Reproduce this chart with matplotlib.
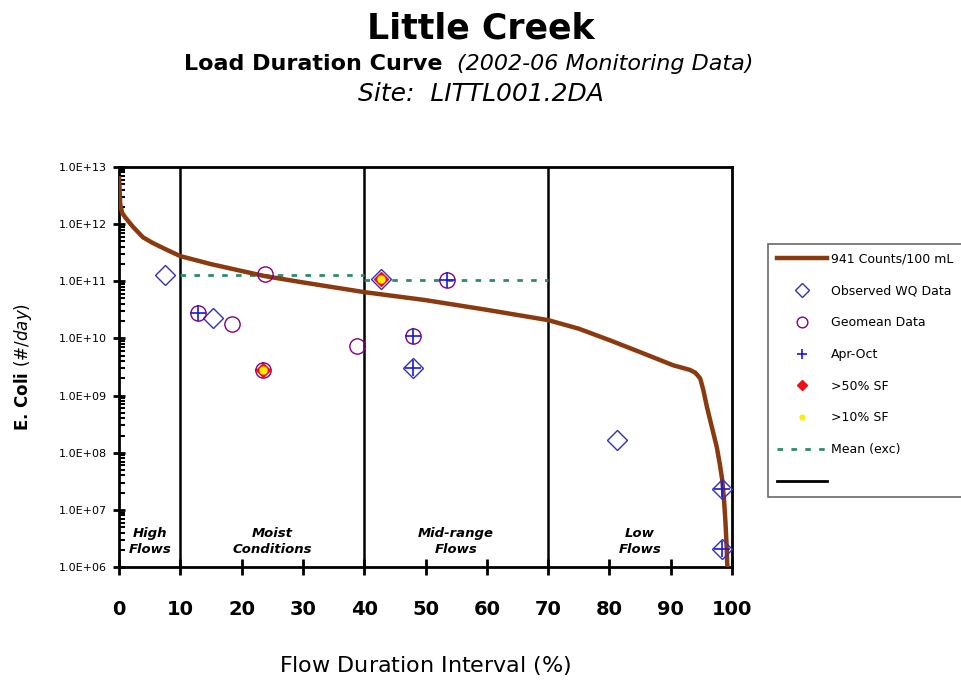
import matplotlib
matplotlib.use("Agg")
import matplotlib.pyplot as plt
import numpy as np
from matplotlib.ticker import LogLocator, FixedLocator, FuncFormatter

# load duration curve at 941 counts/100 mL (flow exceedance %, load #/day)
ldc_pct = [0, 0.1, 0.2, 0.5, 1.0, 2.3, 3.9, 5.5, 7.8, 10, 15, 20, 23.8, 30, 40,
           50, 60, 70, 75, 80, 85, 90.4, 93.1, 94.0, 94.8, 95.3, 95.9, 96.7,
           97.5, 98.0, 98.4, 98.7, 98.9, 99.1, 99.2, 99.4]
ldc_log = [12.8, 12.6, 12.35, 12.2, 12.12, 11.95, 11.77, 11.67, 11.55, 11.44,
           11.3, 11.18, 11.09, 10.98, 10.81, 10.67, 10.5, 10.32, 10.17, 9.97,
           9.76, 9.53, 9.45, 9.4, 9.3, 9.1, 8.8, 8.45, 8.1, 7.8, 7.52, 7.15,
           6.82, 6.4, 6.07, 5.8]
ldc_load = [10 ** v for v in ldc_log]

# observed water quality samples
obs_pct = [7.5, 15.3, 42.8, 48.0, 81.2, 98.4, 98.4]
obs_load = [1.3e11, 2.3e10, 1.1e11, 3.0e9, 1.7e8, 2.3e7, 2.05e6]

# geometric means
geo_pct = [12.9, 18.4, 23.8, 23.5, 38.8, 48.0, 53.5]
geo_load = [2.8e10, 1.8e10, 1.35e11, 2.8e9, 7.5e9, 1.1e10, 1.05e11]

# samples taken April - October
apr_pct = [12.9, 23.5, 48.0, 48.0, 53.5, 98.4, 98.4]
apr_load = [2.8e10, 2.8e9, 1.1e10, 3.0e9, 1.05e11, 2.3e7, 2.05e6]

# exceedances
sf50_pct = [23.5, 42.8]
sf50_load = [2.8e9, 1.1e11]
sf10_pct = [23.5, 42.8]
sf10_load = [2.8e9, 1.1e11]

# mean of exceeding samples per flow zone
mean_pct = [10, 40, np.nan, 40, 70]
mean_load = [1.3e11, 1.3e11, np.nan, 1.05e11, 1.05e11]

zone_edges = [10, 40, 70]
zone_names = ["High\nFlows", "Moist\nConditions", "Mid-range\nFlows", "Low\nFlows"]
zone_mid = [5, 25, 55, 85]

fig = plt.figure(figsize=(9.62, 6.89), dpi=100)
ax = fig.add_axes([0.1237, 0.177, 0.6373, 0.5807])

brown = "#8b3a0f"
ax.plot(ldc_pct, ldc_load, color=brown, lw=3.2, label="941 Counts/100 mL", zorder=3)
ax.plot(obs_pct, obs_load, ls="none", marker="D", ms=10, mfc="none", mec="#3030c0",
        mew=1.0, label="Observed WQ Data", zorder=4)
ax.plot(geo_pct, geo_load, ls="none", marker="o", ms=11, mfc="none", mec="#800080",
        mew=1.0, label="Geomean Data", zorder=4)
ax.plot(apr_pct, apr_load, ls="none", marker="+", ms=11, color="#1a1ad0",
        mew=1.2, label="Apr-Oct", zorder=5)
ax.plot(sf50_pct, sf50_load, ls="none", marker="D", ms=7, color="#ee1111",
        mec="#ee1111", label=">50% SF", zorder=6)
ax.plot(sf10_pct, sf10_load, ls="none", marker="o", ms=5, color="#ffee00",
        mec="#ffee00", label=">10% SF", zorder=7)
ax.plot(mean_pct, mean_load, ls=(0, (2, 3)), color="#2e8b6e", lw=2,
        label="Mean (exc)", zorder=2)
ax.plot([], [], color="black", lw=2, label=" ")

for xe in zone_edges:
    ax.axvline(xe, color="black", lw=1.8, zorder=1)

for xm, name in zip(zone_mid, zone_names):
    ax.text(xm, 2.8e6, name, ha="center", va="center", fontsize=9.5,
            fontweight="bold", style="italic", linespacing=1.3)

ax.set_xlim(0, 100)
ax.set_yscale("log")
ax.set_ylim(1e6, 1e13)
ax.xaxis.set_major_locator(FixedLocator(np.arange(0, 101, 10)))
ax.yaxis.set_major_locator(LogLocator(base=10, numticks=20))
ax.yaxis.set_minor_locator(LogLocator(base=10, subs=np.arange(2, 10), numticks=20))
ax.yaxis.set_major_formatter(FuncFormatter(lambda v, p: "1.0E+%02d" % round(np.log10(v))))
ax.tick_params(axis="x", which="major", direction="inout", length=12, width=2,
               labelsize=14, pad=18)
ax.tick_params(axis="y", which="major", direction="inout", length=9, width=2,
               labelsize=8, pad=4)
ax.tick_params(axis="y", which="minor", direction="in", length=4, width=1.5)
for lab in ax.get_xticklabels():
    lab.set_fontweight("bold")
for sp in ax.spines.values():
    sp.set_linewidth(2)

ax.set_xlabel("Flow Duration Interval $\\it{(\\%)}$", fontsize=16, labelpad=25)
ax.set_ylabel("E. Coli $\\bf{\\it{(\\#/day)}}$", fontsize=12, fontweight="bold",
              labelpad=18)

fig.text(0.5, 0.958, "Little Creek", ha="center", va="center", fontsize=25,
         fontweight="bold")
fig.text(0.46, 0.907, "Load Duration Curve", ha="right", va="center",
         fontsize=16, fontweight="bold")
fig.text(0.475, 0.907, "(2002-06 Monitoring Data)", ha="left", va="center",
         fontsize=16, style="italic")
fig.text(0.5, 0.864, "Site:  LITTL001.2DA", ha="center", va="center", fontsize=18,
         style="italic")

leg = ax.legend(loc="upper left", bbox_to_anchor=(1.059, 0.8075), fontsize=9,
                frameon=True, fancybox=False, edgecolor="#444444",
                handlelength=4.0, labelspacing=1.5, borderpad=0.7,
                handletextpad=0.3, markerscale=0.7, borderaxespad=0)
leg.get_frame().set_linewidth(1.2)

fig.savefig("out.png", dpi=100)
